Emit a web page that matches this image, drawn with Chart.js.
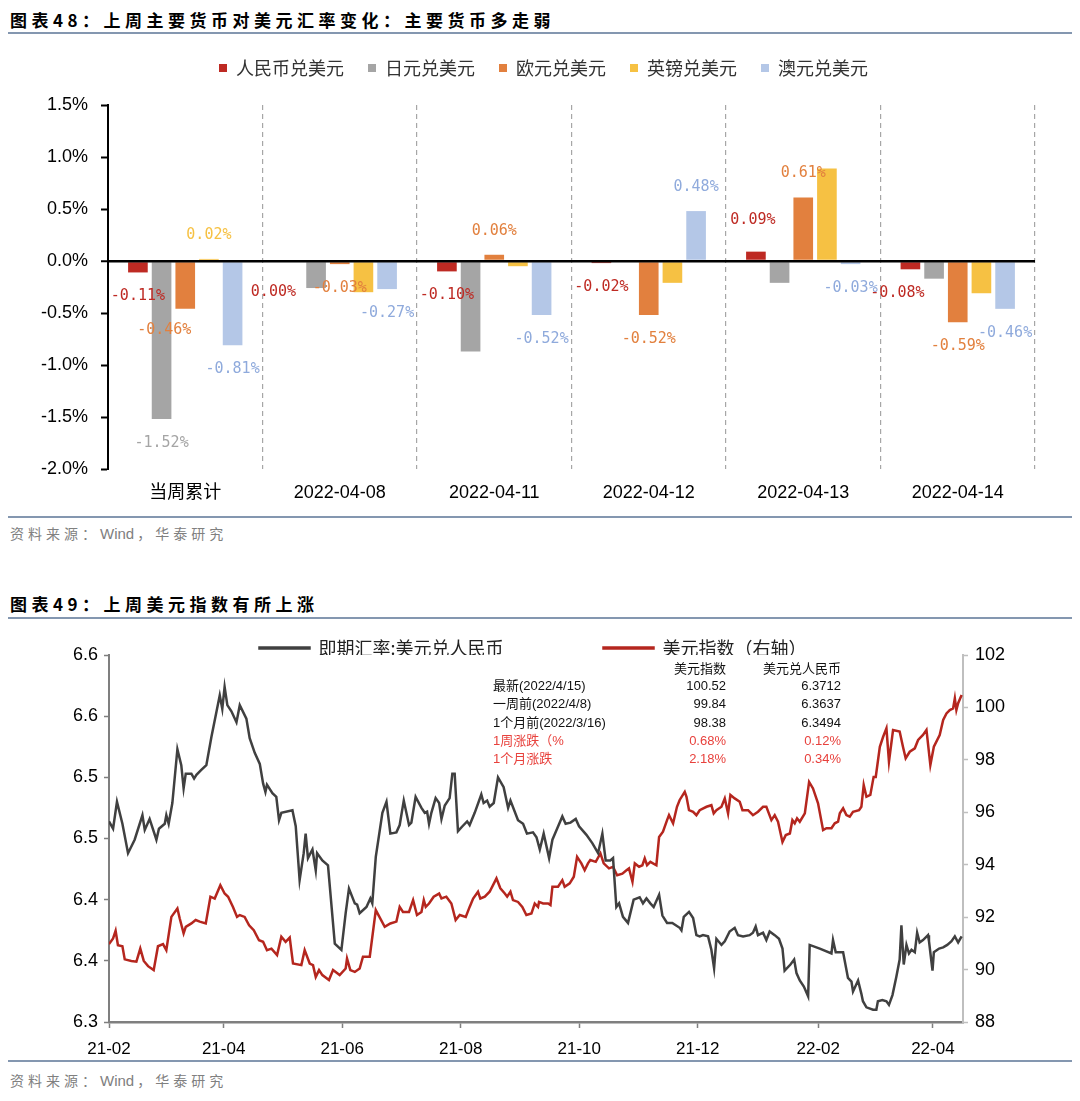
<!DOCTYPE html>
<html>
<head>
<meta charset="utf-8">
<script src="https://cdn.jsdelivr.net/npm/chart.js@4.4.0/dist/chart.umd.min.js"></script>
<style>
  body { margin: 0; width: 1080px; height: 1101px; background: #fff; position: relative; overflow: hidden;
         font-family: 'Noto Sans CJK SC', sans-serif; }
  .title { position: absolute; left: 10px; font-size: 17px; line-height: 24px; font-weight: bold; letter-spacing: 4.5px; color: #000; }
  .rule { position: absolute; left: 8px; width: 1064px; background: #8497b0; }
  .src { position: absolute; left: 10px; font-size: 14px; line-height: 22px; letter-spacing: 4px; color: #808080; }
  .src span { font-family: 'Liberation Sans', sans-serif; font-size: 15px; letter-spacing: 0; margin-right: 3px; }
  .cell { position: absolute; font-family: 'Liberation Sans', 'Noto Sans CJK SC', sans-serif; font-size: 13px; line-height: 18px; white-space: nowrap; color: #111; }
  canvas { position: absolute; left: 0; }
</style>
</head>
<body>
<div class="title" style="top:8px">图表48：上周主要货币对美元汇率变化：主要货币多走弱</div>
<div class="rule" style="top:32px;height:2px"></div>
<canvas id="fx" width="1080" height="470" style="top:40px"></canvas>
<div class="rule" style="top:516px;height:1.5px"></div>
<div class="src" style="top:522px">资料来源：<span>Wind</span>，华泰研究</div>

<div class="title" style="top:592px">图表49：上周美元指数有所上涨</div>
<div class="rule" style="top:617px;height:2px"></div>
<canvas id="dxy" width="1080" height="440" style="top:625px"></canvas>
<div id="tbl"></div>
<div class="rule" style="top:1060px;height:1.5px"></div>
<div class="src" style="top:1069px">资料来源：<span>Wind</span>，华泰研究</div>

<script>
// ---------- 图表48 数据 ----------
const fxCategories = ['当周累计', '2022-04-08', '2022-04-11', '2022-04-12', '2022-04-13', '2022-04-14'];
const fxNames = ['人民币兑美元', '日元兑美元', '欧元兑美元', '英镑兑美元', '澳元兑美元'];
const cnyChange = [-0.11, 0.00, -0.10, -0.02, 0.09, -0.08];
const jpyChange = [-1.52, -0.26, -0.87, 0.00, -0.21, -0.17];
const eurChange = [-0.46, -0.03, 0.06, -0.52, 0.61, -0.59];
const gbpChange = [0.02, -0.30, -0.05, -0.21, 0.89, -0.31];
const audChange = [-0.81, -0.27, -0.52, 0.48, -0.03, -0.46];

// ---------- 图表49 数据（天数 = 距2021-02-01的天数）----------
const cnyDays = [0, 2.1, 4.1, 6.9, 9.8, 13.2, 17.2, 18.4, 20.9, 24.4, 25.7, 28.7, 29.5, 30.7, 32.6, 35.2, 37.2, 38.4, 39.5, 42.4,
  43.8, 45.0, 47.5, 50.1, 52.7, 57.0, 58.3, 59.5, 60.9, 63.0, 65.6, 67.3, 70.7, 72.4, 75.0, 77.6, 79.3, 80.5, 81.3, 84.1,
  86.1, 87.5, 88.7, 94.4, 96.1, 98.1, 100.2, 101.2, 102.4, 104.7, 106.4, 107.1, 109.8, 112.7, 116.2, 119.6, 121.8, 123.5, 126.5, 127.7,
  129.0, 132.5, 134.5, 135.5, 137.3, 140.7, 142.8, 144.8, 147.9, 149.6,
  151.7, 154.4, 155.6, 157.8, 160.8, 162.5, 163.7, 164.7, 165.9, 168.1, 169.9, 171.1, 172.8, 175.3, 176.7, 177.9, 179.6, 181.9, 184.3, 185.6,
  188.2, 191.6, 192.8, 194.6, 195.9, 198.0, 200.2, 203.1, 205.4, 206.6, 210.5, 213.1, 215.1, 218.2, 220.0, 221.7, 223.7, 226.5, 228.2, 230.6,
  233.3, 235.0, 237.5, 240.2, 241.9, 245.7, 248.8, 251.7, 253.9, 255.6, 258.0, 259.4, 261.1, 262.5, 264.5, 267.1, 270.0, 273.1, 274.8, 276.6,
  278.6, 280.3, 283.1, 284.8, 287.2, 289.9, 293.7,
  294.6, 295.8, 298.5, 300.6, 302.3, 304.0, 305.7, 308.3, 310.0, 311.4, 312.6, 315.2, 316.9, 319.4, 322.0, 323.7, 326.3, 329.7, 331.4, 332.8,
  334.0, 336.6, 338.3, 340.0, 342.6, 344.8, 346.6, 347.7, 350.7, 352.6, 353.8, 355.5, 357.6, 359.8, 360.6, 365.8, 371.8, 372.6, 374.0, 377.8,
  380.3, 382.1, 382.9, 385.5, 387.2, 388.0, 389.8, 393.2, 394.9, 395.7, 398.0, 400.1, 401.4, 403.2, 405.2, 406.9, 407.8, 409.0, 410.4, 411.7,
  413.0, 414.7, 415.9, 417.2, 418.9, 421.5, 422.0, 423.8, 424.5, 427.2, 429.3, 431.4, 433.6, 435.3, 437.0, 438.8];
const cnyRate = [6.464, 6.458, 6.480, 6.462, 6.438, 6.449, 6.469, 6.457, 6.466, 6.449, 6.458, 6.462, 6.469, 6.462, 6.479, 6.523, 6.510, 6.491, 6.503, 6.503,
  6.499, 6.502, 6.506, 6.510, 6.533, 6.567, 6.556, 6.574, 6.559, 6.554, 6.545, 6.559, 6.548, 6.532, 6.520, 6.511, 6.495, 6.488, 6.494, 6.487,
  6.484, 6.465, 6.471, 6.473, 6.460, 6.416, 6.438, 6.454, 6.434, 6.441, 6.424, 6.438, 6.432, 6.428, 6.364, 6.359, 6.389, 6.409, 6.397, 6.396,
  6.389, 6.394, 6.401, 6.397, 6.435, 6.471, 6.480, 6.454, 6.455, 6.461,
  6.481, 6.461, 6.463, 6.484, 6.475, 6.471, 6.472, 6.462, 6.471, 6.483, 6.479, 6.466, 6.477, 6.483, 6.503, 6.503, 6.456, 6.460, 6.464, 6.461,
  6.471, 6.486, 6.479, 6.481, 6.476, 6.479, 6.500, 6.492, 6.475, 6.481, 6.465, 6.462, 6.454, 6.455, 6.451, 6.441, 6.454, 6.434, 6.449, 6.458,
  6.468, 6.462, 6.463, 6.466, 6.460, 6.453, 6.446, 6.438, 6.454, 6.432, 6.432, 6.434, 6.394, 6.397, 6.386, 6.381, 6.400, 6.402, 6.397, 6.401,
  6.397, 6.394, 6.404, 6.387, 6.381, 6.381, 6.377,
  6.375, 6.386, 6.390, 6.385, 6.371, 6.370, 6.371, 6.370, 6.359, 6.344, 6.368, 6.363, 6.366, 6.374, 6.377, 6.371, 6.370, 6.371, 6.373, 6.378,
  6.371, 6.373, 6.367, 6.374, 6.371, 6.368, 6.360, 6.342, 6.347, 6.351, 6.340, 6.334, 6.329, 6.321, 6.363, 6.360, 6.356, 6.367, 6.357, 6.357,
  6.336, 6.333, 6.325, 6.334, 6.323, 6.317, 6.312, 6.310, 6.310, 6.317, 6.318, 6.317, 6.314, 6.322, 6.337, 6.351, 6.379, 6.347, 6.363, 6.356,
  6.359, 6.357, 6.373, 6.365, 6.367, 6.371, 6.366, 6.342, 6.357, 6.360, 6.361, 6.363, 6.366, 6.370, 6.365, 6.370];

const dxyDays = [0, 2.1, 3.4, 4.6, 6.9, 8.1, 11.5, 14.1, 16.1, 17.9, 20.1, 23.0, 25.2, 27.8, 29.5, 32.1, 35.2, 36.4, 38.4, 39.5,
  42.4, 44.6, 46.7, 49.8, 52.2, 54.4, 57.3, 59.5, 61.3, 63.8, 65.9, 67.3, 69.8, 72.1, 74.5, 77.2, 79.3, 81.3, 83.6, 86.5,
  88.7, 90.9, 93.0, 94.7, 99.0, 100.7, 103.3, 105.0, 106.4, 108.1, 109.8, 113.2, 115.3, 118.7, 121.8, 122.5, 124.2, 126.5, 129.0, 130.7,
  134.2, 137.3, 141.9, 144.8, 147.9, 149.6,
  151.3, 154.4, 156.5, 158.5, 160.8, 162.0, 163.0, 164.7, 167.1, 169.9, 171.1, 173.6, 176.2, 178.4, 180.5, 183.6, 185.6, 187.4, 189.9, 191.1,
  193.4, 195.9, 199.4, 201.4, 203.7, 204.9, 206.6, 207.9, 210.5, 212.7, 214.8, 217.4, 219.1, 220.8, 221.3, 223.4, 226.0, 227.2, 228.2, 231.1,
  233.3, 234.5, 237.1, 239.2, 240.9, 243.1, 244.8, 246.5, 247.7, 250.5, 252.9, 254.6, 257.3, 259.4, 261.5, 264.2, 266.3, 267.6, 269.4, 270.6,
  272.8, 274.5, 275.7, 276.9, 278.6, 281.7, 283.1, 285.1, 287.2, 288.2, 290.3, 292.3, 293.7,
  296.3, 297.2, 298.5, 300.6, 302.3, 304.0, 307.5, 310.0, 311.2, 312.6, 315.2, 316.9, 318.6, 319.8, 322.0, 324.6, 326.0, 328.9, 331.4, 334.0,
  336.6, 338.3, 340.9, 342.6, 344.3, 346.6, 348.3, 350.4, 351.7, 352.9, 354.1, 355.5, 358.1, 360.3, 362.3, 364.9, 367.5, 369.2, 371.8, 373.5,
  375.2, 376.1, 377.8, 379.5, 381.2, 382.9, 386.0, 387.2, 388.4, 389.8, 391.8, 393.5, 394.6, 396.7, 398.4, 400.1, 401.4, 403.5, 406.9, 408.6,
  410.0, 412.1, 414.7, 416.4, 418.9, 420.7, 422.7, 424.5, 427.5, 429.3, 431.0, 432.7, 434.4, 435.3, 436.1, 437.0, 438.8];
const dxyIndex = [90.97, 91.19, 91.48, 90.93, 90.89, 90.39, 90.33, 90.30, 90.80, 90.33, 90.13, 89.98, 90.89, 90.97, 90.74, 92.01, 92.33, 91.95, 91.38, 91.63,
  91.76, 91.89, 91.83, 91.76, 92.78, 92.71, 93.22, 92.90, 92.78, 92.39, 92.01, 92.08, 92.01, 91.69, 91.50, 91.12, 91.06, 90.74, 90.80, 90.55,
  91.25, 91.06, 91.22, 90.23, 90.17, 90.74, 90.23, 90.17, 89.72, 89.98, 89.79, 89.60, 89.98, 89.79, 90.04, 90.42, 89.98, 89.91, 90.04, 90.49,
  90.49, 92.27, 91.63, 91.76, 91.83, 92.39,
  92.20, 92.20, 92.65, 92.08, 92.20, 92.65, 92.39, 92.52, 92.78, 92.90, 92.71, 92.78, 92.52, 91.89, 92.08, 92.01, 92.39, 92.71, 92.97, 92.71,
  92.78, 92.97, 93.48, 93.10, 92.90, 92.78, 92.97, 92.65, 92.58, 92.39, 92.08, 92.14, 92.52, 92.39, 92.58, 92.52, 92.52, 92.46, 93.16, 93.16,
  93.41, 93.16, 93.29, 93.54, 94.30, 94.05, 93.79, 94.05, 94.18, 94.11, 94.43, 94.05, 93.86, 93.92, 93.60, 93.66, 93.79, 93.86, 93.35, 94.05,
  93.92, 93.98, 94.24, 93.98, 94.11, 93.98, 95.06, 95.26, 95.70, 95.89, 95.58, 96.21, 96.47,
  96.78, 96.59, 96.08, 96.02, 95.89, 96.08, 96.21, 96.27, 95.96, 96.08, 96.21, 96.53, 95.96, 96.66, 96.53, 96.40, 96.08, 96.08, 95.89, 96.02,
  96.21, 96.21, 95.70, 95.89, 95.64, 94.87, 95.13, 95.19, 95.70, 95.58, 95.77, 95.64, 95.96, 97.16, 96.91, 96.34, 95.32, 95.39, 95.39, 95.58,
  95.64, 95.96, 96.15, 95.89, 95.83, 96.02, 96.08, 96.21, 97.04, 96.59, 96.66, 97.35, 97.35, 98.50, 98.88, 99.20, 97.93, 99.14, 99.08, 98.50,
  98.06, 98.31, 98.44, 98.76, 98.95, 99.14, 97.80, 98.50, 98.95, 99.52, 99.77, 99.90, 99.96, 100.35, 99.90, 100.16, 100.47];

const monthTicks = ['2021-02-01', '2021-04-01', '2021-06-01', '2021-08-01', '2021-10-01', '2021-12-01', '2022-02-01', '2022-04-01'];
const monthLabels = ['21-02', '21-04', '21-06', '21-08', '21-10', '21-12', '22-02', '22-04'];
const rateTicks = [6.30, 6.35, 6.40, 6.45, 6.50, 6.55, 6.60];
const rateTickLabels = ['6.3', '6.4', '6.4', '6.5', '6.5', '6.6', '6.6'];

const tableHead = ['', '美元指数', '美元兑人民币'];
const tableNames = ['最新(2022/4/15)', '一周前(2022/4/8)', '1个月前(2022/3/16)', '1周涨跌（%', '1个月涨跌'];
const tableDxy = ['100.52', '99.84', '98.38', '0.68%', '2.18%'];
const tableCny = ['6.3712', '6.3637', '6.3494', '0.12%', '0.34%'];

Chart.defaults.font.family = "'Liberation Sans', 'Noto Sans CJK SC', sans-serif";
Chart.defaults.color = '#000';
Chart.defaults.animation = false;

// 图例整体挪位（绘图区不变）；只动 top，裁剪区仍包住图例
const legendShift = {
  id: 'legendShift',
  afterLayout(chart, args, opts) {
    const lg = chart.legend;
    if (!lg) return;
    if (opts.dy) lg.top += opts.dy;
    if (opts.dx) { lg.left += opts.dx; lg.right += opts.dx; }
  }
};

// 柱子数值标签，个别标签手动挪一下位置
const labelNudge = { '2-0': [-21, -3], '0-1': [-19, 7], '0-4': [-3, -8], '0-5': [-13, 0] };
const barLabels = {
  id: 'barLabels',
  afterDatasetsDraw(chart) {
    const ctx = chart.ctx;
    ctx.save();
    ctx.font = '15px "DejaVu Sans Mono"';
    ctx.textAlign = 'center';
    ctx.textBaseline = 'middle';
    chart.data.datasets.forEach((ds, i) => {
      chart.getDatasetMeta(i).data.forEach((bar, j) => {
        if (!ds.labelAll && j !== 0) return;
        const v = ds.data[j];
        const n = labelNudge[i + '-' + j] || [0, 0];
        ctx.fillStyle = ds.labelColor;
        ctx.fillText(v.toFixed(2) + '%', bar.x + n[0], bar.y + (v > 0 ? -24 : 24) + n[1]);
      });
    });
    ctx.restore();
  }
};

const fxColors = ['#BE2A23', '#A5A5A5', '#E2803E', '#F6C143', '#B4C7E7'];
const fxLabelColors = ['#BE2A23', '#A5A5A5', '#E2803E', '#F6C143', '#8FAADC'];
const fxData = [cnyChange, jpyChange, eurChange, gbpChange, audChange];

new Chart(document.getElementById('fx'), {
  type: 'bar',
  data: {
    labels: fxCategories,
    datasets: fxNames.map((name, i) => ({
      label: name,
      data: fxData[i],
      backgroundColor: fxColors[i],
      labelColor: fxLabelColors[i],
      labelAll: i !== 1 && i !== 3,
      categoryPercentage: 0.766,
      barPercentage: 0.83
    }))
  },
  options: {
    responsive: false,
    layout: { padding: { top: 13, right: 45, left: 0, bottom: 0 } },
    plugins: {
      legend: {
        position: 'top',
        labels: { boxWidth: 8, boxHeight: 8, padding: 24, color: '#333',
                  font: { family: "'Noto Sans CJK SC'", size: 18 } }
      },
      legendShift: { dy: -18, dx: 26 },
      tooltip: { enabled: false }
    },
    scales: {
      x: {
        grid: { offset: true, drawTicks: false, lineWidth: 1.2,
                color: c => c.index === 0 ? 'rgba(0,0,0,0)' : '#A6A6A6' },
        border: { display: false, dash: [5, 4] },
        ticks: { padding: 13, font: { size: 18 }, color: '#000' },
        afterFit: s => { s.height = 41; }
      },
      y: {
        min: -2, max: 1.5,
        ticks: { stepSize: 0.5, padding: 13, font: { size: 18 }, color: '#000',
                 callback: v => v.toFixed(1) + '%' },
        grid: { z: 1, tickLength: 7, tickColor: '#000', tickWidth: 2,
                color: c => c.tick && c.tick.value === 0 ? '#000' : 'rgba(0,0,0,0)',
                lineWidth: c => c.tick && c.tick.value === 0 ? 2.5 : 1 },
        border: { color: '#000', width: 2, z: 2 },
        afterFit: s => { s.width = 108; }
      }
    }
  },
  plugins: [legendShift, barLabels]
});

// ---------- 图表49 ----------
const dayOf = s => (Date.UTC(+s.slice(0, 4), +s.slice(5, 7) - 1, +s.slice(8, 10)) - Date.UTC(2021, 1, 1)) / 86400000;

new Chart(document.getElementById('dxy'), {
  type: 'line',
  data: {
    datasets: [
      { label: '即期汇率:美元兑人民币', data: cnyDays.map((d, i) => ({ x: d, y: cnyRate[i] })),
        borderColor: '#404040', backgroundColor: '#404040', borderWidth: 2.5, pointRadius: 0, yAxisID: 'y' },
      { label: '美元指数（右轴）', data: dxyDays.map((d, i) => ({ x: d, y: dxyIndex[i] })),
        borderColor: '#B5261E', backgroundColor: '#B5261E', borderWidth: 2.5, pointRadius: 0, yAxisID: 'y1' }
    ]
  },
  options: {
    responsive: false,
    layout: { padding: 0 },
    plugins: {
      legend: {
        position: 'top', maxHeight: 30,
        labels: { boxWidth: 50, boxHeight: 1, padding: 100, color: '#222',
                  font: { family: "'Noto Sans CJK SC'", size: 18 } }
      },
      legendShift: { dy: -86, dx: -7 },
      tooltip: { enabled: false }
    },
    scales: {
      x: {
        type: 'linear', min: 0, max: 439.5,
        afterBuildTicks: s => { s.ticks = monthTicks.map(d => ({ value: dayOf(d) })); },
        ticks: { autoSkip: false, maxRotation: 0, padding: 11, font: { size: 17 },
                 callback: (v, i) => monthLabels[i] },
        grid: { drawOnChartArea: false, tickLength: 6, tickColor: '#7F7F7F', tickWidth: 1.5 },
        border: { color: '#7F7F7F', width: 2.5 },
        afterFit: s => { s.height = 43; }
      },
      y: {
        position: 'left', min: 6.3, max: 6.6,
        afterBuildTicks: s => { s.ticks = rateTicks.map(v => ({ value: v })); },
        ticks: { padding: 6, font: { size: 18 }, callback: (v, i) => rateTickLabels[i] },
        grid: { drawOnChartArea: false, tickLength: 5, tickColor: '#7F7F7F', tickWidth: 1.5 },
        border: { color: '#7F7F7F', width: 2 },
        afterFit: s => { s.width = 109; }
      },
      y1: {
        position: 'right', min: 88, max: 102,
        ticks: { stepSize: 2, padding: 7, font: { size: 18 } },
        grid: { drawOnChartArea: false, tickLength: 5, tickColor: '#BFBFBF', tickWidth: 1.5 },
        border: { color: '#BFBFBF', width: 2 },
        afterFit: s => { s.width = 117; }
      }
    }
  },
  plugins: [legendShift]
});

// 表格（美元指数 / 美元兑人民币）
const tbl = document.getElementById('tbl');
const rowY = [669, 686, 704, 723, 741, 759];
function cell(text, y, style) {
  const d = document.createElement('div');
  d.className = 'cell';
  d.textContent = text;
  d.style.cssText += 'top:' + (y - 9) + 'px;' + style;
  tbl.appendChild(d);
}
cell(tableHead[1], rowY[0], 'right:354px;');
cell(tableHead[2], rowY[0], 'right:239px;');
tableNames.forEach((name, i) => {
  const col = i >= 3 ? 'color:#E8413C;' : '';
  cell(name, rowY[i + 1], 'left:493px;' + col);
  cell(tableDxy[i], rowY[i + 1], 'right:354px;' + col);
  cell(tableCny[i], rowY[i + 1], 'right:239px;' + col);
});
</script>
</body>
</html>
